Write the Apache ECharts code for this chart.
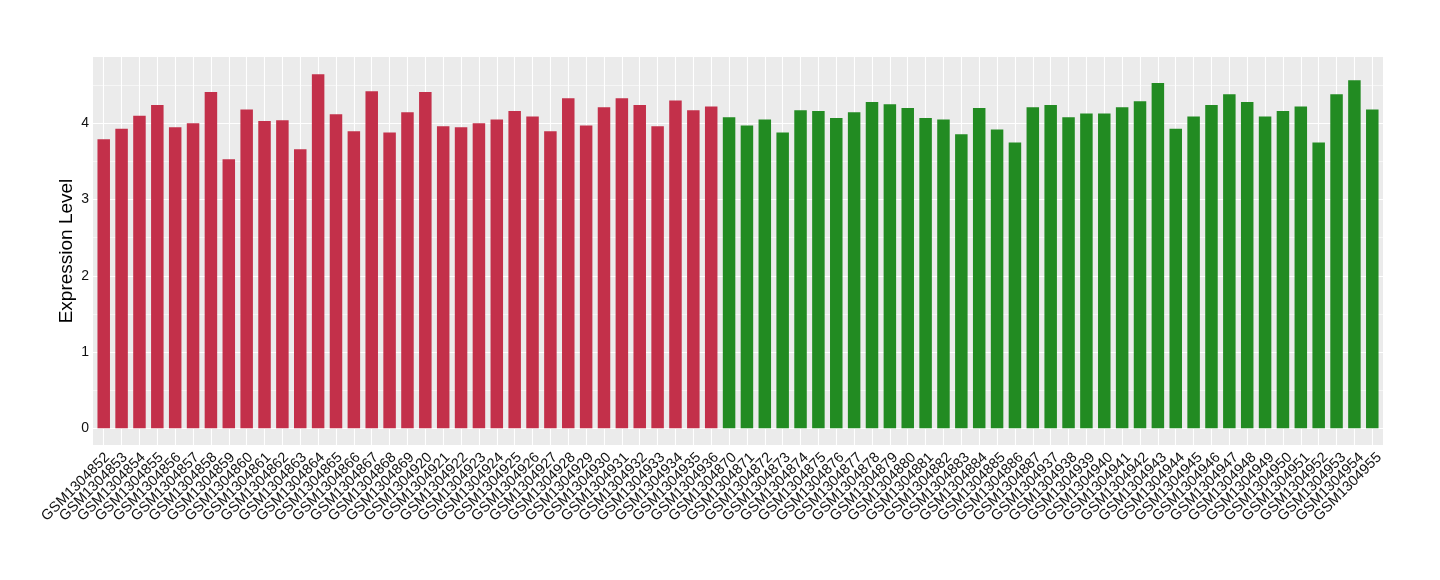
<!DOCTYPE html>
<html>
<head>
<meta charset="utf-8">
<script src="https://cdn.jsdelivr.net/npm/echarts@6/dist/echarts.min.js"></script>
<style>
html,body{margin:0;padding:0;background:#fff;}
#chart{width:1440px;height:580px;}
</style>
</head>
<body>
<div id="chart"></div>
<script>
const categories = [
  'GSM1304852','GSM1304853','GSM1304854','GSM1304855','GSM1304856','GSM1304857','GSM1304858','GSM1304859','GSM1304860','GSM1304861',
  'GSM1304862','GSM1304863','GSM1304864','GSM1304865','GSM1304866','GSM1304867','GSM1304868','GSM1304869',
  'GSM1304920','GSM1304921','GSM1304922','GSM1304923','GSM1304924','GSM1304925','GSM1304926','GSM1304927','GSM1304928','GSM1304929',
  'GSM1304930','GSM1304931','GSM1304932','GSM1304933','GSM1304934','GSM1304935','GSM1304936',
  'GSM1304870','GSM1304871','GSM1304872','GSM1304873','GSM1304874','GSM1304875','GSM1304876','GSM1304877','GSM1304878','GSM1304879',
  'GSM1304880','GSM1304881','GSM1304882','GSM1304883','GSM1304884','GSM1304885','GSM1304886','GSM1304887',
  'GSM1304937','GSM1304938','GSM1304939','GSM1304940','GSM1304941','GSM1304942','GSM1304943','GSM1304944','GSM1304945','GSM1304946',
  'GSM1304947','GSM1304948','GSM1304949','GSM1304950','GSM1304951','GSM1304952','GSM1304953','GSM1304954','GSM1304955'
];
const values = [
  3.79, 3.93, 4.10, 4.24, 3.95, 4.00, 4.41, 3.53, 4.18, 4.03,
  4.04, 3.66, 4.645, 4.12, 3.895, 4.42, 3.88, 4.145,
  4.41, 3.96, 3.95, 4.00, 4.05, 4.16, 4.09, 3.895, 4.33, 3.97,
  4.21, 4.33, 4.24, 3.96, 4.30, 4.17, 4.22,
  4.08, 3.97, 4.05, 3.88, 4.17, 4.16, 4.07, 4.145, 4.28, 4.25,
  4.20, 4.07, 4.05, 3.855, 4.20, 3.92, 3.75, 4.21,
  4.24, 4.08, 4.13, 4.13, 4.21, 4.29, 4.53, 3.93, 4.09, 4.24,
  4.38, 4.28, 4.09, 4.16, 4.22, 3.75, 4.38, 4.565, 4.18
];
const groups = [].concat(Array(35).fill('A'), Array(37).fill('B'));
const groupColors = { A: '#C3304A', B: '#228B22' };
const yTicks = [0, 1, 2, 3, 4];
const yMinorTicks = [0.5, 1.5, 2.5, 3.5, 4.5];

const idx = categories.map((c, i) => i);
const FONT = 'Liberation Sans, Arial, Helvetica, sans-serif';

const gridLines = []
  .concat(yTicks.map(v => ({ yAxis: v, lineStyle: { width: 1.1 } })))
  .concat(yMinorTicks.map(v => ({ yAxis: v, lineStyle: { width: 0.55 } })))
  .concat(idx.map(i => ({ xAxis: i, lineStyle: { width: 1.1 } })));

const chart = echarts.init(document.getElementById('chart'), null, { renderer: 'canvas' });
chart.setOption({
  animation: false,
  backgroundColor: '#ffffff',
  textStyle: { fontFamily: FONT },
  grid: {
    left: 93, top: 57, width: 1290, height: 388,
    show: true, backgroundColor: '#EBEBEB', borderWidth: 0
  },
  xAxis: [
    {
      type: 'value',
      position: 'bottom',
      min: -0.6,
      max: categories.length - 1 + 0.6,
      axisLine: { show: false },
      splitLine: { show: false },
      axisTick: { show: true, customValues: idx, length: 3, lineStyle: { color: '#333333', width: 1 } },
      axisLabel: { show: false }
    },
    {
      type: 'category',
      position: 'bottom',
      offset: 0,
      data: categories,
      boundaryGap: true,
      axisLine: { show: false },
      splitLine: { show: false },
      axisTick: { show: false },
      axisLabel: {
        interval: 0,
        rotate: 45,
        fontSize: 14.5,
        verticalAlign: 'top',
        color: '#111',
        margin: 5,
        fontFamily: FONT
      }
    }
  ],
  yAxis: {
    type: 'value',
    min: -0.22,
    max: 4.87,
    name: 'Expression Level',
    nameLocation: 'middle',
    nameGap: 17,
    nameMoveOverlap: false,
    nameRotate: 90,
    nameTextStyle: { fontSize: 19, color: '#000', fontFamily: FONT },
    axisLine: { show: false },
    splitLine: { show: false },
    axisTick: { show: true, customValues: yTicks, length: 3, lineStyle: { color: '#333333', width: 1 } },
    axisLabel: { customValues: yTicks, fontSize: 14, color: '#111', margin: 4, fontFamily: FONT }
  },
  series: [
    {
      type: 'line',
      xAxisIndex: 0,
      data: [],
      z: 1,
      silent: true,
      markLine: {
        z: 1,
        silent: true,
        symbol: ['none', 'none'],
        label: { show: false },
        lineStyle: { color: '#ffffff', type: 'solid' },
        emphasis: { disabled: true },
        data: gridLines
      }
    },
    {
      type: 'bar',
      xAxisIndex: 0,
      z: 2,
      barWidth: 12.5,
      data: values.map((v, i) => ({ value: [i, v], itemStyle: { color: groupColors[groups[i]] } }))
    }
  ]
});
</script>
</body>
</html>
